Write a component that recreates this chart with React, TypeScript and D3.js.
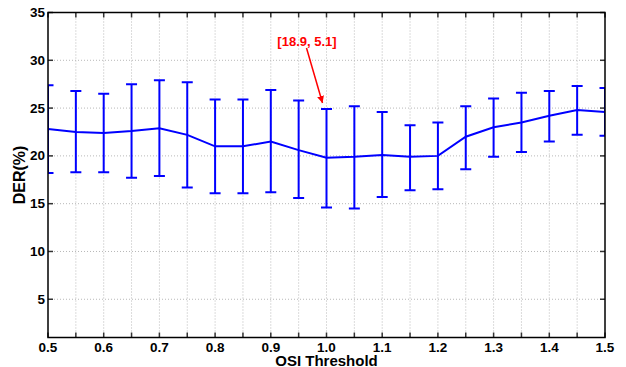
import * as d3 from 'd3'
import { useEffect, useRef } from 'react'

// OSI threshold values
const thresholds = [0.5, 0.55, 0.6, 0.65, 0.7, 0.75, 0.8, 0.85, 0.9, 0.95, 1.0, 1.05, 1.1, 1.15, 1.2, 1.25, 1.3, 1.35, 1.4, 1.45, 1.5]
// mean DER (%)
const derMean = [22.8, 22.5, 22.4, 22.6, 22.9, 22.2, 21.0, 21.0, 21.5, 20.6, 19.8, 19.9, 20.1, 19.9, 20.0, 22.0, 23.0, 23.5, 24.2, 24.8, 24.6]
// upper / lower end of error bars
const derHigh = [27.4, 26.8, 26.5, 27.5, 27.9, 27.7, 25.9, 25.9, 26.9, 25.8, 24.9, 25.2, 24.6, 23.2, 23.5, 25.2, 26.0, 26.6, 26.8, 27.3, 27.1]
const derLow = [18.2, 18.3, 18.3, 17.7, 17.9, 16.7, 16.1, 16.1, 16.2, 15.6, 14.6, 14.5, 15.7, 16.4, 16.5, 18.6, 19.9, 20.4, 21.5, 22.2, 22.1]

const xTicks = [0.5, 0.6, 0.7, 0.8, 0.9, 1.0, 1.1, 1.2, 1.3, 1.4, 1.5]
const xMinor = d3.range(21).map((i) => 0.5 + i * 0.05)
const yTicks = [5, 10, 15, 20, 25, 30, 35]

const annotationText = '[18.9, 5.1]'

const App = () => {
  const ref = useRef<SVGSVGElement>(null)

  useEffect(() => {
    const svg = d3.select(ref.current)
    svg.selectAll('*').remove()

    const width = 626,
      height = 367
    const left = 48,
      right = 605,
      top = 12.5,
      bottom = 337.5

    const font = "'Liberation Sans', Arial, Helvetica, sans-serif"

    const x = d3.scaleLinear().domain([0.5, 1.5]).range([left, right])
    const y = d3.scaleLinear().domain([1, 35]).range([bottom, top])

    svg.attr('width', width).attr('height', height)

    var defs = svg.append('defs')
    defs
      .append('clipPath')
      .attr('id', 'plotClip')
      .append('rect')
      .attr('x', left)
      .attr('y', top)
      .attr('width', right - left)
      .attr('height', bottom - top)

    defs
      .append('marker')
      .attr('id', 'arrowHead')
      .attr('viewBox', '0 0 10 10')
      .attr('refX', 10)
      .attr('refY', 5)
      .attr('markerWidth', 7)
      .attr('markerHeight', 7)
      .attr('markerUnits', 'userSpaceOnUse')
      .attr('orient', 'auto')
      .append('path')
      .attr('d', 'M0,0 L10,5 L0,10 z')
      .attr('fill', '#ff0000')

    // grid
    var grid = svg.append('g')
    grid
      .selectAll('.vgrid')
      .data(xMinor.slice(1, -1))
      .enter()
      .append('line')
      .attr('x1', (d) => x(d))
      .attr('x2', (d) => x(d))
      .attr('y1', top)
      .attr('y2', bottom)
      .attr('stroke', '#b8b8b8')
      .attr('stroke-width', 1)
      .attr('stroke-dasharray', '1,2')
    grid
      .selectAll('.hgrid')
      .data(yTicks.slice(0, -1))
      .enter()
      .append('line')
      .attr('x1', left)
      .attr('x2', right)
      .attr('y1', (d) => y(d))
      .attr('y2', (d) => y(d))
      .attr('stroke', '#b8b8b8')
      .attr('stroke-width', 1)
      .attr('stroke-dasharray', '1,2')

    // ticks (inward, all four sides)
    var ticks = svg.append('g').attr('stroke', '#333').attr('stroke-width', 1.5)
    xMinor.forEach((d) => {
      ticks.append('line').attr('x1', x(d)).attr('x2', x(d)).attr('y1', bottom).attr('y2', bottom - 5)
      ticks.append('line').attr('x1', x(d)).attr('x2', x(d)).attr('y1', top).attr('y2', top + 5)
    })
    yTicks.forEach((d) => {
      ticks.append('line').attr('x1', left).attr('x2', left + 5).attr('y1', y(d)).attr('y2', y(d))
      ticks.append('line').attr('x1', right).attr('x2', right - 5).attr('y1', y(d)).attr('y2', y(d))
    })

    // data
    var plot = svg.append('g').attr('clip-path', 'url(#plotClip)')
    var idx = d3.range(thresholds.length)
    var cap = 5.5

    plot
      .selectAll('.err')
      .data(idx)
      .enter()
      .append('path')
      .attr('d', (i) => {
        var cx = x(thresholds[i])
        var hi = y(derHigh[i]),
          lo = y(derLow[i])
        return (
          'M' + (cx - cap) + ',' + hi + 'H' + (cx + cap) +
          'M' + cx + ',' + hi + 'V' + lo +
          'M' + (cx - cap) + ',' + lo + 'H' + (cx + cap)
        )
      })
      .attr('fill', 'none')
      .attr('stroke', '#0000ff')
      .attr('stroke-width', 2)

    var line = d3
      .line<number>()
      .x((i) => x(thresholds[i]))
      .y((i) => y(derMean[i]))

    plot
      .append('path')
      .datum(idx)
      .attr('d', line)
      .attr('fill', 'none')
      .attr('stroke', '#0000ff')
      .attr('stroke-width', 2)

    // frame
    svg
      .append('rect')
      .attr('x', left)
      .attr('y', top)
      .attr('width', right - left)
      .attr('height', bottom - top)
      .attr('fill', 'none')
      .attr('stroke', '#000')
      .attr('stroke-width', 1.5)

    // tick labels
    svg
      .selectAll('.xlab')
      .data(xTicks)
      .enter()
      .append('text')
      .attr('x', (d) => x(d))
      .attr('y', bottom + 14)
      .attr('text-anchor', 'middle')
      .style('font-family', font)
      .style('font-size', '13.5px')
      .style('font-weight', 'bold')
      .text((d) => d.toFixed(1))

    svg
      .selectAll('.ylab')
      .data(yTicks)
      .enter()
      .append('text')
      .attr('x', left - 3)
      .attr('y', (d) => y(d) + 4.5)
      .attr('text-anchor', 'end')
      .style('font-family', font)
      .style('font-size', '13.5px')
      .style('font-weight', 'bold')
      .text((d) => d)

    // axis titles
    svg
      .append('text')
      .attr('x', (left + right) / 2)
      .attr('y', 365.5)
      .attr('text-anchor', 'middle')
      .style('font-family', font)
      .style('font-size', '15px')
      .style('font-weight', 'bold')
      .text('OSI Threshold')

    svg
      .append('text')
      .attr('transform', 'translate(25,' + y(18) + ') rotate(-90)')
      .attr('text-anchor', 'middle')
      .style('font-family', font)
      .style('font-size', '16px')
      .style('font-weight', 'bold')
      .text('DER(%)')

    // annotation
    svg
      .append('line')
      .attr('x1', 306.5)
      .attr('y1', 48)
      .attr('x2', x(1.0) - 4)
      .attr('y2', y(derHigh[10]) - 6)
      .attr('stroke', '#ff0000')
      .attr('stroke-width', 1.5)
      .attr('marker-end', 'url(#arrowHead)')

    svg
      .append('text')
      .attr('x', 307)
      .attr('y', 46)
      .attr('text-anchor', 'middle')
      .attr('fill', '#ff0000')
      .style('font-family', font)
      .style('font-size', '13px')
      .style('font-weight', 'bold')
      .text(annotationText)
  }, [])

  return <svg ref={ref} style={{ position: 'absolute', left: 0, top: 0 }}></svg>
}

export default App
